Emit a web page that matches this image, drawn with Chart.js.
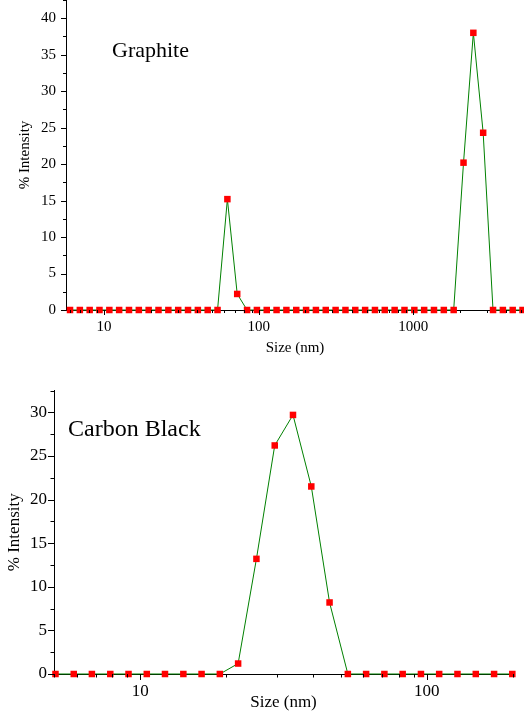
<!DOCTYPE html>
<html>
<head>
<meta charset="utf-8">
<script src="https://cdn.jsdelivr.net/npm/chart.js@4.4.1/dist/chart.umd.min.js"></script>
<style>
  html, body { margin: 0; padding: 0; background: #fff; }
  #wrap { position: relative; width: 524px; height: 715px; overflow: hidden; }
  .box { position: absolute; left: 0; width: 524px; }
  #top { top: 0; height: 362px; }
  #bottom { top: 362px; height: 353px; }
</style>
</head>
<body>
<div id="wrap">
  <div class="box" id="top"><canvas id="graphiteChart" width="524" height="362"></canvas></div>
  <div class="box" id="bottom"><canvas id="carbonChart" width="524" height="353"></canvas></div>
</div>
<script>
// Graphite - size distribution by intensity
const graphiteSize = [6.03, 6.98, 8.08, 9.35, 10.83, 12.53, 14.51, 16.80, 19.45, 22.52,
    26.08, 30.19, 34.95, 40.46, 46.85, 54.24, 62.80, 72.69, 84.19, 97.45,
    112.8, 130.6, 151.2, 175.1, 202.7, 234.7, 271.7, 314.6, 364.3, 421.7,
    488.3, 565.3, 654.4, 757.8, 877.4, 1016, 1176, 1361, 1576, 1825,
    2113, 2446, 2831, 3279, 3796, 4395, 5088];
const graphiteIntensity = [0, 0, 0, 0, 0, 0, 0, 0, 0, 0,
    0, 0, 0, 0, 0, 0, 15.2, 2.2, 0, 0,
    0, 0, 0, 0, 0, 0, 0, 0, 0, 0,
    0, 0, 0, 0, 0, 0, 0, 0, 0, 0,
    20.2, 38.0, 24.3, 0, 0, 0, 0];

// Carbon Black - size distribution by intensity
const carbonSize = [5.06, 5.86, 6.78, 7.86, 9.10, 10.54, 12.20, 14.14, 16.37, 18.96,
    21.96, 25.44, 29.47, 34.13, 39.54, 45.79, 53.04, 61.43, 71.15, 82.41,
    95.44, 110.5, 128.0, 148.3, 171.8, 198.9];
const carbonIntensity = [0, 0, 0, 0, 0, 0, 0, 0, 0, 0,
    1.2, 13.2, 26.2, 29.7, 21.5, 8.2, 0, 0, 0, 0,
    0, 0, 0, 0, 0, 0];

// tick labels
const graphiteXLabels = [10, 100, 1000];
const carbonXLabels = [10, 100];
const yTickStep = 2.5;
const yLabelStep = 5;

Chart.defaults.font.family = '"Liberation Serif", "Times New Roman", serif';
Chart.defaults.color = '#000';

// all 1..9 x 10^n values between min and max (for log axis tick marks)
function logTicks(min, max) {
    const out = [];
    for (let e = Math.floor(Math.log10(min)); e <= Math.ceil(Math.log10(max)); e++) {
        for (let m = 1; m < 10; m++) {
            const v = m * Math.pow(10, e);
            if (v >= min * 0.999 && v <= max * 1.001) out.push(v);
        }
    }
    return out;
}

// outward tick marks, long for labelled ticks and short for the rest
const tickMarks = {
    id: 'tickMarks',
    afterDraw(chart, args, opts) {
        const ctx = chart.ctx;
        ctx.save();
        ctx.strokeStyle = '#000';
        ctx.lineWidth = 1;
        ['x', 'y'].forEach(id => {
            const s = chart.scales[id];
            s.ticks.forEach(t => {
                const len = (t.label !== '' && t.label != null) ? opts.major : opts.minor;
                const p = Math.round(s.getPixelForValue(t.value)) + 0.5;
                ctx.beginPath();
                if (id === 'x') {
                    ctx.moveTo(p, s.top);
                    ctx.lineTo(p, s.top + len);
                } else {
                    ctx.moveTo(s.right - len, p);
                    ctx.lineTo(s.right, p);
                }
                ctx.stroke();
            });
        });
        ctx.restore();
    }
};

// sample name written inside the plot
const sampleName = {
    id: 'sampleName',
    afterDraw(chart, args, opts) {
        const ctx = chart.ctx;
        const area = chart.chartArea;
        ctx.save();
        ctx.font = opts.size + 'px "Liberation Serif", "Times New Roman", serif';
        ctx.fillStyle = '#000';
        ctx.textBaseline = 'alphabetic';
        ctx.fillText(opts.text, area.left + opts.dx, area.top + opts.dy);
        ctx.restore();
    }
};

function makeChart(canvasId, cfg) {
    const points = cfg.sizes.map((s, i) => ({ x: s, y: cfg.values[i] }));
    return new Chart(document.getElementById(canvasId), {
        type: 'line',
        data: {
            datasets: [{
                data: points,
                borderColor: '#008000',
                borderWidth: 1,
                tension: 0,
                pointStyle: 'rect',
                pointRadius: 4.6,
                pointBackgroundColor: '#ff0000',
                pointBorderWidth: 0,
                clip: false
            }]
        },
        plugins: [tickMarks, sampleName],
        options: {
            responsive: false,
            animation: false,
            layout: { padding: cfg.padding, autoPadding: false },
            plugins: {
                legend: { display: false },
                tooltip: { enabled: false },
                tickMarks: { major: cfg.majorLen, minor: cfg.minorLen },
                sampleName: { text: cfg.name, size: cfg.nameSize, dx: cfg.nameDx, dy: cfg.nameDy }
            },
            scales: {
                x: {
                    type: 'logarithmic',
                    min: cfg.xMin,
                    max: cfg.xMax,
                    grid: { display: false, drawTicks: false },
                    border: { display: true, color: '#000', width: 1 },
                    afterBuildTicks: s => {
                        s.ticks = logTicks(cfg.xMin, cfg.xMax).map(v => ({ value: v }));
                    },
                    afterFit: s => {
                        s.height = cfg.xHeight;
                        s.paddingLeft = 0;
                        s.paddingRight = 0;
                    },
                    ticks: {
                        autoSkip: false,
                        maxRotation: 0,
                        padding: cfg.xTickPad,
                        font: { size: cfg.tickSize },
                        callback: v => cfg.xLabels.includes(v) ? String(v) : ''
                    },
                    title: {
                        display: true,
                        text: 'Size (nm)',
                        font: { size: cfg.titleSize },
                        padding: { top: 0, bottom: cfg.xTitlePad }
                    }
                },
                y: {
                    min: 0,
                    max: cfg.yMax,
                    grid: { display: false, drawTicks: false },
                    border: { display: true, color: '#000', width: 1 },
                    afterFit: s => {
                        s.width = cfg.yWidth;
                        s.paddingTop = 0;
                        s.paddingBottom = 0;
                    },
                    ticks: {
                        stepSize: yTickStep,
                        autoSkip: false,
                        padding: cfg.yTickPad,
                        font: { size: cfg.tickSize },
                        callback: v => v % yLabelStep === 0 ? String(v) : ''
                    },
                    title: {
                        display: true,
                        text: '% Intensity',
                        font: { size: cfg.titleSize },
                        padding: { top: cfg.yTitlePad, bottom: 0 }
                    }
                }
            }
        }
    });
}

makeChart('graphiteChart', {
    sizes: graphiteSize, values: graphiteIntensity, xLabels: graphiteXLabels,
    xMin: 5.68, xMax: 5200, yMax: 42.5,
    padding: { top: 0, right: 0, bottom: 0, left: 0 },
    xHeight: 52, yWidth: 66,
    tickSize: 15, titleSize: 15,
    xTickPad: 8, yTickPad: 10, xTitlePad: 5, yTitlePad: 16,
    majorLen: 5, minorLen: 3,
    name: 'Graphite', nameSize: 22, nameDx: 46, nameDy: 57
});

makeChart('carbonChart', {
    sizes: carbonSize, values: carbonIntensity, xLabels: carbonXLabels,
    xMin: 5, xMax: 200, yMax: 32.5,
    padding: { top: 28.5, right: 11, bottom: 0, left: 0 },
    xHeight: 41, yWidth: 54,
    tickSize: 17, titleSize: 17,
    xTickPad: 7, yTickPad: 7, xTitlePad: 2, yTitlePad: 4,
    majorLen: 6, minorLen: 3.5,
    name: 'Carbon Black', nameSize: 24, nameDx: 14, nameDy: 45.5
});
</script>
</body>
</html>
